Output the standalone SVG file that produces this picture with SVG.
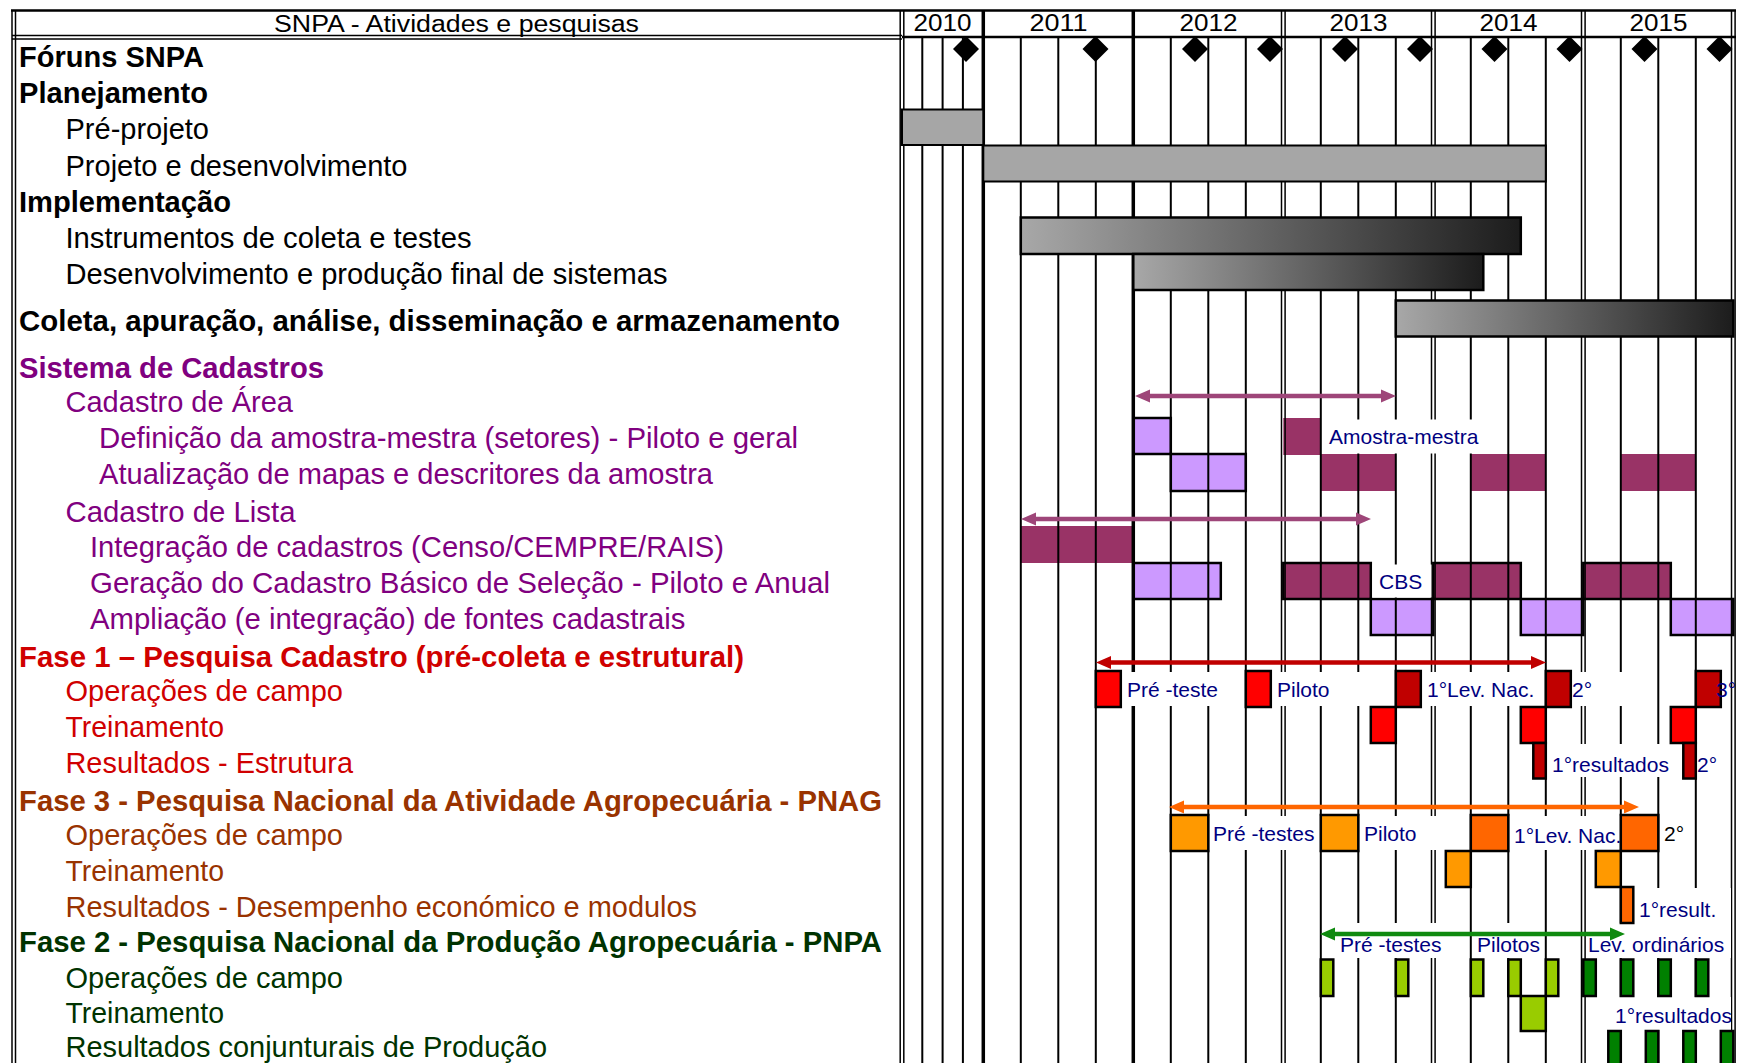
<svg xmlns="http://www.w3.org/2000/svg" width="1742" height="1063" viewBox="0 0 1742 1063">
<style>
.lbl{font-family:"Liberation Sans",Arial,sans-serif;font-size:29px}
.b{font-weight:bold}
.k{fill:#000}
.pu{fill:#800080}
.re{fill:#d00000}
.br{fill:#993300}
.gr{fill:#003300}
.cl{font-family:"Liberation Sans",Arial,sans-serif;font-size:21px;fill:#000080}
.hd{font-family:"Liberation Sans",Arial,sans-serif;font-size:23px;fill:#000}
.bx{stroke:#000;stroke-width:2.5}
.lp{fill:#cc99ff}
.dp{fill:#993366}
.r1{fill:#ff0000}
.r2{fill:#c00000}
.o1{fill:#ff9900}
.o2{fill:#ff6600}
.g1{fill:#99cc00}
.g2{fill:#008000}
.gray{fill:#a6a6a6;stroke:#000;stroke-width:2}
.grad{fill:url(#gbar);stroke:#000;stroke-width:2.5}
.q{stroke:#000;stroke-width:2;fill:none}
.yl{stroke:#000;stroke-width:3.5;fill:none}
.dl{stroke:#000;stroke-width:1.5;fill:none}
.wl{fill:#fff}
</style>
<defs>
<linearGradient id="gbar" x1="0" y1="0" x2="1" y2="0">
<stop offset="0" stop-color="#a8a8a8"/>
<stop offset="1" stop-color="#1c1c1c"/>
</linearGradient>
</defs>
<rect width="1742" height="1063" fill="#fff"/>

<g id="cadastro-bars">
<rect class="lp bx" x="1133.3" y="418" width="37.5" height="36"/>
<rect class="lp bx" x="1170.8" y="454" width="75" height="37"/>
<rect class="dp" x="1283.3" y="418" width="37.5" height="37"/>
<rect class="dp" x="1320.8" y="454" width="75" height="37"/>
<rect class="dp" x="1470.8" y="454" width="75" height="37"/>
<rect class="dp" x="1620.8" y="454" width="75" height="37"/>
<rect class="dp" x="1020.8" y="526" width="112.5" height="37"/>
<rect class="lp bx" x="1133.3" y="563" width="87.5" height="36"/>
<rect class="dp bx" x="1283.3" y="563" width="87.5" height="36"/>
<rect class="dp bx" x="1433.3" y="563" width="87.5" height="36"/>
<rect class="dp bx" x="1583.3" y="563" width="87.5" height="36"/>
<rect class="lp bx" x="1370.8" y="599" width="62.5" height="36"/>
<rect class="lp bx" x="1520.8" y="599" width="62.5" height="36"/>
<rect class="lp bx" x="1670.8" y="599" width="62.5" height="36"/>
</g>

<g id="grid">
<path class="q" d="M922.3,37V1063M942.6,37V1063M962.9,37V1063M1020.8,37V1063M1058.3,37V1063M1095.8,37V1063M1170.8,37V1063M1208.3,37V1063M1245.8,37V1063M1320.8,37V1063M1358.3,37V1063M1395.8,37V1063M1470.8,37V1063M1508.3,37V1063M1545.8,37V1063M1620.8,37V1063M1658.3,37V1063M1695.8,37V1063"/>
<path class="yl" d="M983.3,10V1063M1133.3,10V1063"/>
<path class="dl" d="M900.2,10V1063M903.8,10V1063M1281.5,10V1063M1285.1,10V1063M1431.5,10V1063M1435.1,10V1063M1581.5,10V1063M1585.1,10V1063M1731.5,10V1063M1735.1,10V1063M12,10V1063M15.5,10V1063"/>
<path class="q" style="stroke-width:2.5" d="M11,10.5H1736M902,37H1736"/>
<path class="dl" d="M12,35.5H902M12,39H902"/>
</g>

<g id="planning-bars">
<rect class="gray" x="902" y="109.5" width="81.3" height="35.5"/>
<rect class="gray" x="983.3" y="145.5" width="562.5" height="36"/>
<rect class="grad" x="1020.8" y="217.5" width="500" height="36.5"/>
<rect class="grad" x="1133.3" y="254" width="350" height="36"/>
<rect class="grad" x="1395.8" y="300.5" width="337.5" height="36"/>
</g>

<g id="label-backgrounds">
<rect class="wl" x="1323" y="419.5" width="162" height="34"/>
<rect class="wl" x="1372.5" y="564.5" width="59" height="33"/>
<rect class="wl" x="1122.5" y="672" width="121.5" height="34"/>
<rect class="wl" x="1272.5" y="672" width="121.5" height="34"/>
<rect class="wl" x="1422.5" y="672" width="121.5" height="34"/>
<rect class="wl" x="1572.5" y="672" width="52" height="34"/>
<rect class="wl" x="1547" y="744" width="135" height="33"/>
<rect class="wl" x="1209.5" y="816" width="110" height="34"/>
<rect class="wl" x="1359.5" y="816" width="76.5" height="34"/>
<rect class="wl" x="1509.5" y="816" width="110" height="34"/>
<rect class="wl" x="1634.5" y="888" width="96.5" height="36"/>
<rect class="wl" x="1334" y="923" width="111" height="35"/>
<rect class="wl" x="1474" y="923" width="70" height="35"/>
<rect class="wl" x="1586.5" y="923" width="144.5" height="35"/>
<rect class="wl" x="1611" y="997" width="120" height="33"/>
</g>

<g id="fase1-bars">
<rect class="r1 bx" x="1095.8" y="671" width="25" height="36"/>
<rect class="r1 bx" x="1245.8" y="671" width="25" height="36"/>
<rect class="r2 bx" x="1395.8" y="671" width="25" height="36"/>
<rect class="r2 bx" x="1545.8" y="671" width="25" height="36"/>
<rect class="r2 bx" x="1695.8" y="671" width="25" height="36"/>
<rect class="r1 bx" x="1370.8" y="707" width="25" height="36"/>
<rect class="r1 bx" x="1520.8" y="707" width="25" height="36"/>
<rect class="r1 bx" x="1670.8" y="707" width="25" height="36"/>
<rect class="r2 bx" x="1533.3" y="743" width="12.5" height="35.5"/>
<rect class="r2 bx" x="1683.3" y="743" width="12.5" height="35.5"/>
</g>

<g id="fase3-bars">
<rect class="o1 bx" x="1170.8" y="815" width="37.5" height="36"/>
<rect class="o1 bx" x="1320.8" y="815" width="37.5" height="36"/>
<rect class="o2 bx" x="1470.8" y="815" width="37.5" height="36"/>
<rect class="o2 bx" x="1620.8" y="815" width="37.5" height="36"/>
<rect class="o1 bx" x="1445.8" y="851" width="25" height="36"/>
<rect class="o1 bx" x="1595.8" y="851" width="25" height="36"/>
<rect class="o2 bx" x="1620.8" y="887" width="12.5" height="36"/>
</g>

<g id="fase2-bars">
<rect class="g1 bx" x="1320.8" y="959.5" width="12.5" height="36.5"/>
<rect class="g1 bx" x="1395.8" y="959.5" width="12.5" height="36.5"/>
<rect class="g1 bx" x="1470.8" y="959.5" width="12.5" height="36.5"/>
<rect class="g1 bx" x="1508.3" y="959.5" width="12.5" height="36.5"/>
<rect class="g1 bx" x="1545.8" y="959.5" width="12.5" height="36.5"/>
<rect class="g2 bx" x="1583.3" y="959.5" width="12.5" height="36.5"/>
<rect class="g2 bx" x="1620.8" y="959.5" width="12.5" height="36.5"/>
<rect class="g2 bx" x="1658.3" y="959.5" width="12.5" height="36.5"/>
<rect class="g2 bx" x="1695.8" y="959.5" width="12.5" height="36.5"/>
<rect class="g1 bx" x="1520.8" y="996" width="25" height="35"/>
<rect class="g2 bx" x="1608.3" y="1031" width="12.5" height="40"/>
<rect class="g2 bx" x="1645.8" y="1031" width="12.5" height="40"/>
<rect class="g2 bx" x="1683.3" y="1031" width="12.5" height="40"/>
<rect class="g2 bx" x="1720.8" y="1031" width="12.5" height="40"/>
</g>

<g id="milestones" fill="#000">
<polygon points="966,36 979,49 966,62 953,49"/>
<polygon points="1095.5,36 1108.5,49 1095.5,62 1082.5,49"/>
<polygon points="1195,36 1208,49 1195,62 1182,49"/>
<polygon points="1270,36 1283,49 1270,62 1257,49"/>
<polygon points="1345,36 1358,49 1345,62 1332,49"/>
<polygon points="1420,36 1433,49 1420,62 1407,49"/>
<polygon points="1494.5,36 1507.5,49 1494.5,62 1481.5,49"/>
<polygon points="1569.5,36 1582.5,49 1569.5,62 1556.5,49"/>
<polygon points="1644.5,36 1657.5,49 1644.5,62 1631.5,49"/>
<polygon points="1719.5,36 1732.5,49 1719.5,62 1706.5,49"/>
</g>

<g id="connectors">
<path fill="#9e4679" d="M1135,396 L1150,389.5 L1150,393.8 L1381,393.8 L1381,389.5 L1396,396 L1381,402.5 L1381,398.2 L1150,398.2 L1150,402.5 Z"/>
<path fill="#9e4679" d="M1021,519 L1036,512.5 L1036,516.8 L1356,516.8 L1356,512.5 L1371,519 L1356,525.5 L1356,521.2 L1036,521.2 L1036,525.5 Z"/>
<path fill="#c00000" d="M1096,662.5 L1111,656 L1111,660.3 L1531,660.3 L1531,656 L1546,662.5 L1531,669 L1531,664.7 L1111,664.7 L1111,669 Z"/>
<path fill="#ff6600" d="M1169,807 L1184,800.5 L1184,804.8 L1624,804.8 L1624,800.5 L1639,807 L1624,813.5 L1624,809.2 L1184,809.2 L1184,813.5 Z"/>
<path fill="#0f8a0f" d="M1320,934 L1335,927.5 L1335,931.8 L1610,931.8 L1610,927.5 L1625,934 L1610,940.5 L1610,936.2 L1335,936.2 L1335,940.5 Z"/>
</g>

<g id="chart-labels">
<text class="cl" x="1329" y="444">Amostra-mestra</text>
<text class="cl" x="1379" y="589">CBS</text>
<text class="cl" x="1127" y="697">Pré -teste</text>
<text class="cl" x="1277" y="697">Piloto</text>
<text class="cl" x="1427" y="697">1°Lev. Nac.</text>
<text class="cl" x="1572" y="697">2°</text>
<text class="cl" x="1716" y="697">3°</text>
<text class="cl" x="1552" y="772">1°resultados</text>
<text class="cl" x="1697" y="772">2°</text>
<text class="cl" x="1213" y="841">Pré -testes</text>
<text class="cl" x="1364" y="841">Piloto</text>
<text class="cl" x="1514" y="843">1°Lev. Nac.</text>
<text class="cl" x="1664" y="841" style="fill:#000">2°</text>
<text class="cl" x="1639" y="917">1°result.</text>
<text class="cl" x="1340" y="952">Pré -testes</text>
<text class="cl" x="1477" y="952">Pilotos</text>
<text class="cl" x="1588" y="952">Lev. ordinários</text>
<text class="cl" x="1615" y="1023">1°resultados</text>
</g>

<g id="header">
<text class="hd" x="274" y="31.5" textLength="365" lengthAdjust="spacingAndGlyphs">SNPA - Atividades e pesquisas</text>
<text class="hd" x="913.5" y="31" textLength="58" lengthAdjust="spacingAndGlyphs">2010</text>
<text class="hd" x="1029.5" y="31" textLength="58" lengthAdjust="spacingAndGlyphs">2011</text>
<text class="hd" x="1179.5" y="31" textLength="58" lengthAdjust="spacingAndGlyphs">2012</text>
<text class="hd" x="1329.5" y="31" textLength="58" lengthAdjust="spacingAndGlyphs">2013</text>
<text class="hd" x="1479.5" y="31" textLength="58" lengthAdjust="spacingAndGlyphs">2014</text>
<text class="hd" x="1629.5" y="31" textLength="58" lengthAdjust="spacingAndGlyphs">2015</text>
</g>

<g id="row-labels">
<text class="lbl b k" x="19" y="66.5" textLength="185" lengthAdjust="spacingAndGlyphs">Fóruns SNPA</text>
<text class="lbl b k" x="19" y="102.5" textLength="189" lengthAdjust="spacingAndGlyphs">Planejamento</text>
<text class="lbl k" x="65.5" y="138.5" textLength="143.5" lengthAdjust="spacingAndGlyphs">Pré-projeto</text>
<text class="lbl k" x="65.5" y="175.5" textLength="342" lengthAdjust="spacingAndGlyphs">Projeto e desenvolvimento</text>
<text class="lbl b k" x="19" y="211.5" textLength="212" lengthAdjust="spacingAndGlyphs">Implementação</text>
<text class="lbl k" x="65.5" y="247.5" textLength="406" lengthAdjust="spacingAndGlyphs">Instrumentos de coleta e testes</text>
<text class="lbl k" x="65.5" y="283.5" textLength="602" lengthAdjust="spacingAndGlyphs">Desenvolvimento e produção final de sistemas</text>
<text class="lbl b k" x="19" y="330.5" textLength="821" lengthAdjust="spacingAndGlyphs">Coleta, apuração, análise, disseminação e armazenamento</text>
<text class="lbl b pu" x="19" y="377.5" textLength="305" lengthAdjust="spacingAndGlyphs">Sistema de Cadastros</text>
<text class="lbl pu" x="65.5" y="411.5" textLength="227.5" lengthAdjust="spacingAndGlyphs">Cadastro de Área</text>
<text class="lbl pu" x="99" y="447.5" textLength="699" lengthAdjust="spacingAndGlyphs">Definição da amostra-mestra (setores) - Piloto e geral</text>
<text class="lbl pu" x="99" y="483.5" textLength="614" lengthAdjust="spacingAndGlyphs">Atualização de mapas e descritores da amostra</text>
<text class="lbl pu" x="65.5" y="521.5" textLength="230" lengthAdjust="spacingAndGlyphs">Cadastro de Lista</text>
<text class="lbl pu" x="90" y="556.5" textLength="634" lengthAdjust="spacingAndGlyphs">Integração de cadastros (Censo/CEMPRE/RAIS)</text>
<text class="lbl pu" x="90" y="592.5" textLength="740" lengthAdjust="spacingAndGlyphs">Geração do Cadastro Básico de Seleção - Piloto e Anual</text>
<text class="lbl pu" x="90" y="628.5" textLength="595.5" lengthAdjust="spacingAndGlyphs">Ampliação (e integração) de fontes cadastrais</text>
<text class="lbl b re" x="19" y="666.5" textLength="725" lengthAdjust="spacingAndGlyphs">Fase 1 – Pesquisa Cadastro (pré-coleta e estrutural)</text>
<text class="lbl re" x="65.5" y="700.5" textLength="277.5" lengthAdjust="spacingAndGlyphs">Operações de campo</text>
<text class="lbl re" x="65.5" y="736.5" textLength="158.5" lengthAdjust="spacingAndGlyphs">Treinamento</text>
<text class="lbl re" x="65.5" y="772.5" textLength="287.5" lengthAdjust="spacingAndGlyphs">Resultados - Estrutura</text>
<text class="lbl b br" x="19" y="810.5" textLength="863" lengthAdjust="spacingAndGlyphs">Fase 3 - Pesquisa Nacional da Atividade Agropecuária - PNAG</text>
<text class="lbl br" x="65.5" y="844.5" textLength="277.5" lengthAdjust="spacingAndGlyphs">Operações de campo</text>
<text class="lbl br" x="65.5" y="880.5" textLength="158.5" lengthAdjust="spacingAndGlyphs">Treinamento</text>
<text class="lbl br" x="65.5" y="916.5" textLength="631.5" lengthAdjust="spacingAndGlyphs">Resultados - Desempenho económico e modulos</text>
<text class="lbl b gr" x="19" y="952" textLength="863" lengthAdjust="spacingAndGlyphs">Fase 2 - Pesquisa Nacional da Produção Agropecuária - PNPA</text>
<text class="lbl gr" x="65.5" y="987.5" textLength="277.5" lengthAdjust="spacingAndGlyphs">Operações de campo</text>
<text class="lbl gr" x="65.5" y="1023" textLength="158.5" lengthAdjust="spacingAndGlyphs">Treinamento</text>
<text class="lbl gr" x="65.5" y="1057" textLength="481.5" lengthAdjust="spacingAndGlyphs">Resultados conjunturais de Produção</text>
</g>
</svg>
